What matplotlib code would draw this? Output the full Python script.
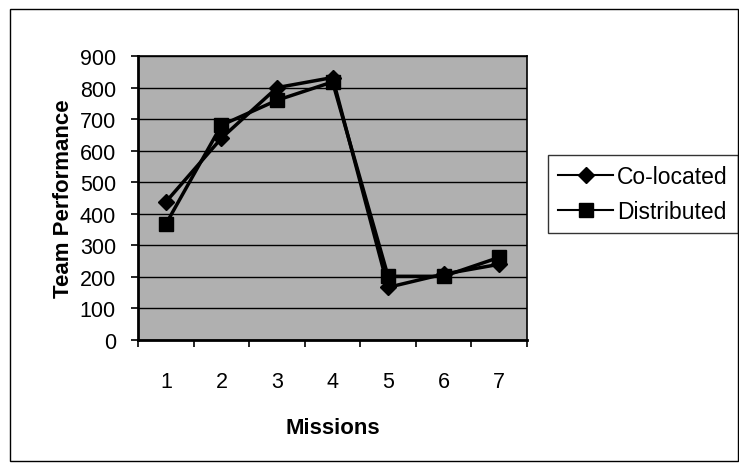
# team performance per mission, co-located vs distributed teams

import numpy as np
import matplotlib.pyplot as plt
from matplotlib.patches import Rectangle

missions = ["1", "2", "3", "4", "5", "6", "7"]
co_located = [438, 640, 800, 832, 167, 209, 240]
distributed = [368, 681, 760, 818, 202, 202, 262]

plt.rcParams['font.family'] = ['Liberation Sans', 'DejaVu Sans']

fig = plt.figure(figsize=(7.39, 4.64), dpi=100)
ax = fig.add_axes([0.187, 0.265, 0.526, 0.612])

x = np.arange(1, len(missions) + 1)
ax.set_facecolor('#b0b0b0')
ax.plot(x, co_located, color='black', lw=2.5, marker='D', ms=8.5, label='Co-located')
ax.plot(x, distributed, color='black', lw=2.5, marker='s', ms=10, label='Distributed')

ax.set_xlim(0.5, len(missions) + 0.5)
ax.set_ylim(0, 900)
ax.set_yticks(range(0, 901, 100))
ax.yaxis.grid(True, color='black', lw=1.0)
ax.set_axisbelow(True)

# category axis: labels at centres, tick marks on boundaries
ax.set_xticks(x)
ax.set_xticklabels(missions)
ax.set_xticks(np.arange(0.5, len(missions) + 1), minor=True)
ax.tick_params(axis='x', which='major', length=0, pad=22, labelsize=15.5)
ax.tick_params(axis='x', which='minor', length=5, width=1.2, direction='out')
ax.tick_params(axis='y', length=5, width=1.2, pad=11, labelsize=15.5)

for s in ax.spines.values():
    s.set_linewidth(1.2)
ax.spines['left'].set_linewidth(2)
ax.spines['bottom'].set_linewidth(2)

ax.set_xlabel("Missions", fontsize=16, fontweight='bold', labelpad=18)
ax.set_ylabel("Team Performance", fontsize=16, fontweight='bold', labelpad=4)

leg = ax.legend(loc='center left', bbox_to_anchor=(1.054, 0.514), fontsize=16.5,
                frameon=True, fancybox=False, edgecolor='black', handlelength=2.4,
                borderpad=0.45, labelspacing=0.5, handletextpad=0.15,
                borderaxespad=0)
leg.get_frame().set_linewidth(1.0)
for h in leg.get_lines():
    h.set_linewidth(1.5)

# outer chart frame
fig.patches.append(Rectangle((10 / 739, 2 / 464), 728 / 739, 452 / 464,
                             transform=fig.transFigure, fill=False,
                             edgecolor='black', lw=1.0))

fig.savefig("out.png", dpi=100)
